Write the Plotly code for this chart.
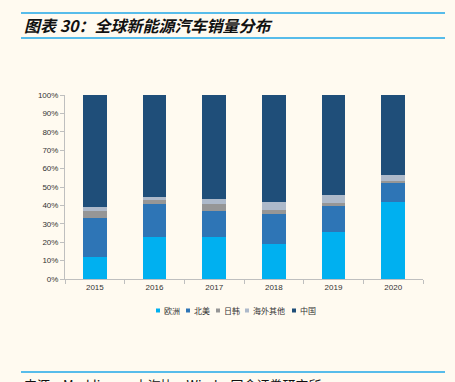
import plotly.graph_objects as go

years = ["2015", "2016", "2017", "2018", "2019", "2020"]
europe = [12.2, 22.7, 22.7, 19.0, 25.6, 41.9]
north_america = [20.9, 17.9, 14.2, 16.6, 14.0, 10.7]
japan_korea = [4.1, 2.2, 3.7, 2.0, 1.7, 0.6]
overseas_other = [2.1, 2.0, 2.9, 4.0, 4.5, 3.4]
china = [60.7, 55.2, 56.5, 58.4, 54.2, 43.4]

series_names = ["欧洲", "北美", "日韩", "海外其他", "中国"]
series_values = [europe, north_america, japan_korea, overseas_other, china]
colors = ["#00B0F0", "#2E75B6", "#969696", "#ADB9CA", "#1F4E79"]

BG = "#FFFAF0"
W, H = 455, 382
L, R, T, B = 65, 423, 95, 279

def px(x):
    return (x - L) / (R - L)

def py(y):
    return (B - y) / (B - T)

fig = go.Figure()
for name, vals, c in zip(series_names, series_values, colors):
    fig.add_trace(go.Bar(
        x=years, y=vals, name=name, showlegend=False,
        marker=dict(color=c, line=dict(color=c, width=0)),
    ))

fig.update_layout(
    barmode="stack",
    bargap=0.6,
    width=W, height=H,
    paper_bgcolor=BG, plot_bgcolor=BG,
    margin=dict(l=L, r=W - R, t=T, b=H - B, pad=0),
    font=dict(family="Liberation Sans, Noto Sans CJK SC", size=8, color="#333333"),
    showlegend=False,
    xaxis=dict(showline=True, linecolor="#BFBFBF", linewidth=1, ticks="outside",
               tickson="boundaries", ticklen=4, tickcolor="#BFBFBF",
               showgrid=False, tickfont=dict(size=8, color="#333333"), fixedrange=True),
    yaxis=dict(range=[0, 100], dtick=10, ticksuffix="%", showline=True, linecolor="#BFBFBF",
               linewidth=1, ticks="outside", ticklen=4, tickcolor="#BFBFBF",
               showgrid=False, zeroline=False, tickfont=dict(size=8, color="#333333")),
)

shapes = []
for yline in (13, 38, 372):
    shapes.append(dict(type="line", xref="paper", yref="paper",
                       x0=px(21), x1=px(445), y0=py(yline), y1=py(yline),
                       line=dict(color="#1FA7E8", width=1.5)))

# manual legend (small squares + labels)
legend_x = [156, 186, 216, 245, 292]
for lx, name, c in zip(legend_x, series_names, colors):
    shapes.append(dict(type="rect", xref="paper", yref="paper",
                       x0=px(lx), x1=px(lx + 4), y0=py(312.5), y1=py(308.5),
                       fillcolor=c, line=dict(width=0)))
    fig.add_annotation(xref="paper", yref="paper", x=px(lx + 5.5), y=py(310.5),
                       xanchor="left", yanchor="middle", text=name, showarrow=False,
                       font=dict(size=8, family="Noto Sans CJK SC", color="#333333"))
fig.update_layout(shapes=shapes)

fig.add_annotation(xref="paper", yref="paper", x=px(22), y=py(25), xanchor="left", yanchor="middle",
                   text="<b><i>图表 30：全球新能源汽车销量分布</i></b>", showarrow=False,
                   font=dict(size=16, family="Noto Sans CJK SC", color="#111111"))
fig.add_annotation(xref="paper", yref="paper", x=px(22), y=py(384), xanchor="left", yanchor="middle",
                   text="来源：Marklines，中汽协，Wind，国金证券研究所", showarrow=False,
                   font=dict(size=13, family="Noto Sans CJK SC", color="#111111"))

fig.write_html("out.html", config={"displayModeBar": False},
               post_script="document.body.style.margin='0';document.body.style.background='%s';" % BG)
